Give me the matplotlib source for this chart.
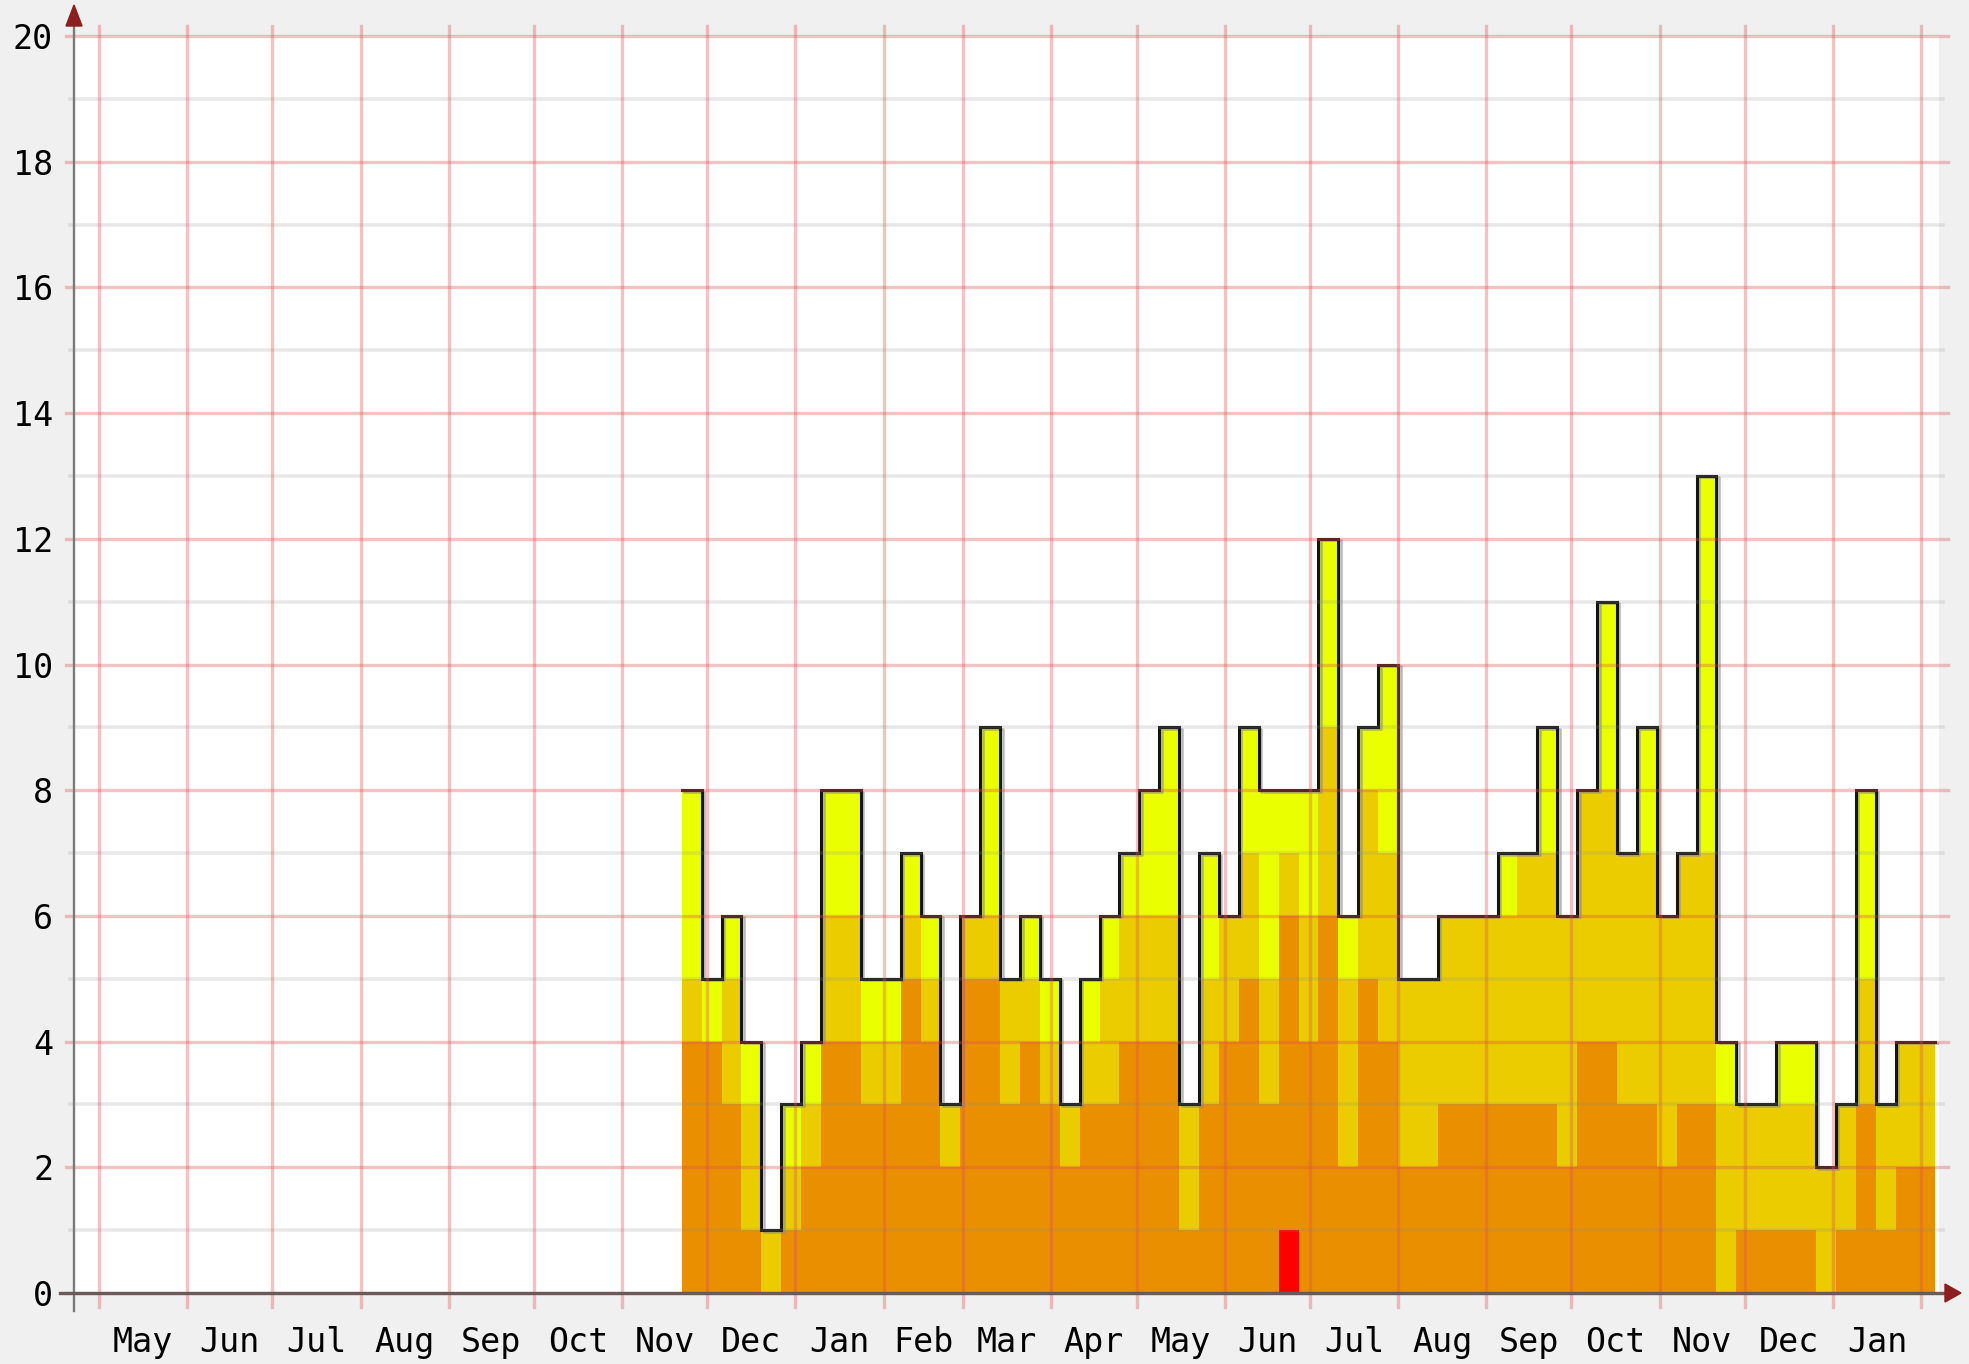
import matplotlib
matplotlib.use("Agg")
import matplotlib.pyplot as plt
import matplotlib.dates as mdates
from matplotlib.lines import Line2D
from matplotlib.patches import Polygon
import matplotlib.transforms as mtransforms
import numpy as np
import datetime as dt

# ---------------- data (weekly levels, overlaid areas) ----------------
first_week = dt.date(2012, 11, 22)
total = [8, 5, 6, 4, 1, 3, 4, 8, 8, 5,
         5, 7, 6, 3, 6, 9, 5, 6, 5, 3,
         5, 6, 7, 8, 9, 3, 7, 6, 9, 8,
         8, 8, 12, 6, 9, 10, 5, 5, 6, 6,
         6, 7, 7, 9, 6, 8, 11, 7, 9, 6,
         7, 13, 4, 3, 3, 4, 4, 2, 3, 8,
         3, 4, 4]
mid = [5, 4, 5, 3, 1, 2, 3, 6, 6, 4,
       4, 6, 5, 3, 6, 6, 5, 5, 4, 3,
       4, 5, 6, 6, 6, 3, 5, 6, 7, 5,
       7, 6, 9, 5, 8, 7, 5, 5, 6, 6,
       6, 6, 7, 7, 6, 8, 8, 7, 7, 6,
       7, 7, 3, 3, 3, 3, 3, 2, 3, 5,
       3, 4, 4]
low = [4, 4, 3, 1, 0, 1, 2, 4, 4, 3,
       3, 5, 4, 2, 5, 5, 3, 4, 3, 2,
       3, 3, 4, 4, 4, 1, 3, 4, 5, 3,
       6, 4, 6, 2, 5, 4, 2, 2, 3, 3,
       3, 3, 3, 3, 2, 4, 4, 3, 3, 2,
       3, 3, 0, 1, 1, 1, 1, 0, 1, 3,
       1, 2, 2]
red = [0] * 30 + [1] + [0] * 32

y_ticks = list(range(0, 21, 2))
month_names = ["Jan", "Feb", "Mar", "Apr", "May", "Jun",
               "Jul", "Aug", "Sep", "Oct", "Nov", "Dec"]

# ---------------- styling ----------------
W, H = 1969, 1364
BG = "#F0F0F0"
C_TOTAL = "#EAFF00"
C_MID = "#EACC00"
C_LOW = "#EA8F00"
C_RED = "#FF0000"
MGRID = "#DE5050"
GRID = "#8F8F8F"
FONT = "DejaVu Sans Mono"

fig = plt.figure(figsize=(W / 100, H / 100), dpi=100, facecolor=BG)
ax_l, ax_r, ax_t, ax_b = 74, 1939, 36, 1293
ax = fig.add_axes([ax_l / W, (H - ax_b) / H, (ax_r - ax_l) / W, (ax_b - ax_t) / H])
ax.set_facecolor("white")
for s in ax.spines.values():
    s.set_visible(False)

n = len(total)
dates = [first_week + dt.timedelta(days=7 * i) for i in range(n + 1)]
xe = mdates.date2num(dates)

def ext(v):
    return np.append(np.asarray(v, float), v[-1])

for lev, col, z in [(total, C_TOTAL, 1), (mid, C_MID, 2), (low, C_LOW, 3), (red, C_RED, 4)]:
    ax.fill_between(xe, 0, ext(lev), step="post", color=col, lw=0, zorder=z)

shadow = mtransforms.offset_copy(ax.transData, fig=fig, x=2.5, y=-1.5, units="dots")
ax.step(xe, ext(total), where="post", color="#8a8a8a", lw=1.8, alpha=0.6,
        zorder=4.5, transform=shadow)
ax.step(xe, ext(total), where="post", color="#141414", lw=2.2, zorder=5,
        solid_joinstyle="miter")

# x range
x0 = mdates.date2num(dt.date(2012, 5, 1)) - 8.8
x1 = mdates.date2num(dt.date(2012, 5, 1)) + 647.3
ax.set_xlim(x0, x1)
ax.set_ylim(0, 20)

aw, ah = ax_r - ax_l, ax_b - ax_t
# horizontal grid
for v in range(0, 21):
    if v % 2 == 0:
        ax.axhline(v, xmin=-8 / aw, xmax=1 + 9 / aw, color=MGRID, alpha=0.34,
                   lw=2.4, clip_on=False, zorder=6)
    else:
        ax.axhline(v, xmin=-4 / aw, xmax=1 + 4 / aw, color=GRID, alpha=0.2,
                   lw=2.6, clip_on=False, zorder=6)

# month grid
month_starts = []
y, m = 2012, 5
while (y, m) <= (2014, 2):
    month_starts.append(dt.date(y, m, 1))
    m += 1
    if m > 12:
        m, y = 1, y + 1
for d in month_starts:
    ax.axvline(mdates.date2num(d), ymin=-14 / ah, ymax=1 + 10 / ah, color=MGRID,
               alpha=0.34, lw=2.4, clip_on=False, zorder=6)

# tick labels
ax.set_yticks(y_ticks)
ax.set_yticklabels([str(v) for v in y_ticks], fontfamily=FONT, fontsize=24)
ax.tick_params(axis="y", length=0, pad=15)

mids = []
labels = []
for i in range(len(month_starts) - 1):
    a = mdates.date2num(month_starts[i])
    b = mdates.date2num(month_starts[i + 1])
    mids.append((a + b) / 2)
    labels.append(month_names[month_starts[i].month - 1])
ax.set_xticks(mids)
ax.set_xticklabels(labels, fontfamily=FONT, fontsize=24)
ax.tick_params(axis="x", length=0, pad=23.5)

# axes lines and arrows (figure pixel coordinates)
def fx(px):
    return px / W

def fy(py):
    return 1 - py / H

fig.add_artist(Line2D([fx(74), fx(74)], [fy(1311), fy(20)], color="#7a7a7a", lw=1.7, zorder=10))
fig.add_artist(Line2D([fx(60), fx(1950)], [fy(1293), fy(1293)], color="#6a5a5a", lw=2.4, zorder=10))
fig.add_artist(Polygon([(fx(66), fy(26)), (fx(82), fy(26)), (fx(74), fy(5))],
                       closed=True, color="#8B1E1E", zorder=11))
fig.add_artist(Polygon([(fx(1945), fy(1284)), (fx(1945), fy(1302)), (fx(1961), fy(1293))],
                       closed=True, color="#8B1E1E", zorder=11))

fig.savefig("out.png", dpi=100, facecolor=BG)
